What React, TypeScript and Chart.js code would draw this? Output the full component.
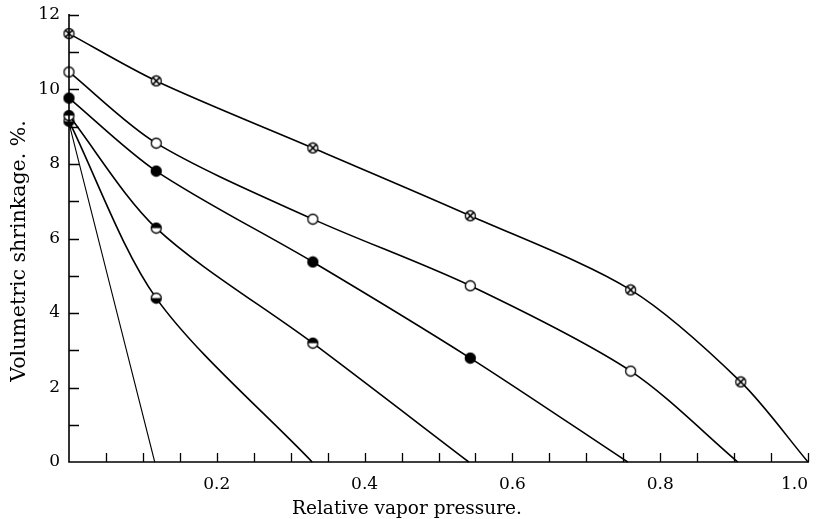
import React, { useEffect, useRef } from "react";
import { Chart, registerables } from "chart.js";

Chart.register(...registerables);

// Series: x = relative vapor pressure, y = volumetric shrinkage (%)
const crossX = [0, 0.118, 0.33, 0.543, 0.76, 0.909, 1.0];
const crossY = [11.5, 10.23, 8.43, 6.61, 4.62, 2.15, 0];
const openX = [0, 0.118, 0.33, 0.543, 0.76, 0.905];
const openY = [10.47, 8.56, 6.52, 4.73, 2.44, 0];
const filledX = [0, 0.118, 0.33, 0.543, 0.756];
const filledY = [9.77, 7.81, 5.37, 2.79, 0];
const topHalfX = [0, 0.118, 0.33, 0.541];
const topHalfY = [9.3, 6.28, 3.19, 0];
const bottomHalfX = [0, 0.118, 0.329];
const bottomHalfY = [9.15, 4.4, 0];
const plainX = [0, 0.116];
const plainY = [9.1, 0];

const xTickLabels = ["0.2", "0.4", "0.6", "0.8", "1.0"];
const yTickLabels = ["0", "2", "4", "6", "8", "10", "12"];
const xTitle = "Relative vapor pressure.";
const yTitle = "Volumetric shrinkage. %.";

const FONT = "'DejaVu Serif', 'Liberation Serif', serif";

function makeMarker(kind: string): HTMLCanvasElement {
  const s = 13;
  const c = document.createElement("canvas");
  c.width = s;
  c.height = s;
  const ctx = c.getContext("2d")!;
  const cx = 6.5, cy = 6.5, r = 5;
  ctx.lineWidth = 1.3;
  ctx.strokeStyle = "#000";
  ctx.fillStyle = "#fff";
  ctx.beginPath();
  ctx.arc(cx, cy, r, 0, Math.PI * 2);
  ctx.fill();
  ctx.fillStyle = "#000";
  if (kind === "filled") {
    ctx.beginPath();
    ctx.arc(cx, cy, r, 0, Math.PI * 2);
    ctx.fill();
  } else if (kind === "top") {
    ctx.beginPath();
    ctx.arc(cx, cy, r, Math.PI, Math.PI * 2);
    ctx.closePath();
    ctx.fill();
  } else if (kind === "bottom") {
    ctx.beginPath();
    ctx.arc(cx, cy, r, 0, Math.PI);
    ctx.closePath();
    ctx.fill();
  } else if (kind === "cross") {
    const d = r * 0.72;
    ctx.lineWidth = 1.5;
    ctx.beginPath();
    ctx.moveTo(cx - d, cy - d);
    ctx.lineTo(cx + d, cy + d);
    ctx.moveTo(cx + d, cy - d);
    ctx.lineTo(cx - d, cy + d);
    ctx.stroke();
    ctx.lineWidth = 1.3;
  }
  ctx.beginPath();
  ctx.arc(cx, cy, r, 0, Math.PI * 2);
  ctx.stroke();
  return c;
}

function pts(xs: number[], ys: number[]) {
  return xs.map((x, i) => ({ x, y: ys[i] }));
}

function radii(ys: number[], hasMarkers: boolean) {
  return ys.map((y) => (hasMarkers && y !== 0 ? 6 : 0));
}

const axesPlugin = {
  id: "paperAxes",
  afterDraw(chart: any) {
    const { ctx, chartArea } = chart;
    const xs = chart.scales.x;
    const ys = chart.scales.y;
    const left = chartArea.left;
    const bottom = chartArea.bottom;
    ctx.save();
    ctx.strokeStyle = "#000";
    ctx.lineWidth = 1.6;
    ctx.beginPath();
    ctx.moveTo(left, ys.getPixelForValue(12) - 1);
    ctx.lineTo(left, bottom);
    ctx.lineTo(xs.getPixelForValue(1.0) + 1, bottom);
    ctx.stroke();
    ctx.lineWidth = 1.3;
    ctx.beginPath();
    for (let v = 1; v <= 12; v++) {
      const py = Math.round(ys.getPixelForValue(v)) + 0.5;
      ctx.moveTo(left, py);
      ctx.lineTo(left + 10, py);
    }
    for (let i = 1; i <= 20; i++) {
      const px = Math.round(xs.getPixelForValue(i * 0.05)) + 0.5;
      ctx.moveTo(px, bottom);
      ctx.lineTo(px, bottom - 9);
    }
    ctx.stroke();
    ctx.fillStyle = "#000";
    ctx.textAlign = "center";
    ctx.textBaseline = "middle";
    ctx.font = `18.5px ${FONT}`;
    ctx.fillText(xTitle, 407, 509);
    ctx.font = `20.5px ${FONT}`;
    ctx.translate(20, 251);
    ctx.rotate(-Math.PI / 2);
    ctx.fillText(yTitle, 0, 0);
    ctx.restore();
  },
};

export default function App() {
  const ref = useRef<HTMLCanvasElement>(null);
  useEffect(() => {
    document.body.style.margin = "0";
    const cross = makeMarker("cross");
    const open = makeMarker("open");
    const filled = makeMarker("filled");
    const top = makeMarker("top");
    const bottom = makeMarker("bottom");
    const base = {
      borderColor: "#000",
      backgroundColor: "#000",
      borderWidth: 1.6,
      tension: 0.3,
      clip: false as any,
      pointHoverRadius: 0,
    };
    const chart = new Chart(ref.current!, {
      type: "line",
      data: {
        datasets: [
          { ...base, data: pts(crossX, crossY), pointStyle: cross as any, pointRadius: radii(crossY, true) },
          { ...base, data: pts(openX, openY), pointStyle: open as any, pointRadius: radii(openY, true) },
          { ...base, data: pts(filledX, filledY), pointStyle: filled as any, pointRadius: radii(filledY, true) },
          { ...base, data: pts(topHalfX, topHalfY), pointStyle: top as any, pointRadius: radii(topHalfY, true) },
          { ...base, data: pts(bottomHalfX, bottomHalfY), pointStyle: bottom as any, pointRadius: radii(bottomHalfY, true) },
          { ...base, borderWidth: 1.1, data: pts(plainX, plainY), pointRadius: 0 },
        ] as any,
      },
      options: {
        animation: false,
        responsive: false,
        devicePixelRatio: 1,
        layout: { padding: { left: 0, top: 15, right: 10, bottom: 0 } },
        plugins: { legend: { display: false }, tooltip: { enabled: false } },
        events: [],
        scales: {
          x: {
            type: "linear",
            min: 0,
            max: 1,
            grid: { display: false, drawTicks: false },
            border: { display: false },
            afterFit: (s: any) => {
              s.height = 57;
              s.paddingLeft = 0;
              s.paddingRight = 0;
            },
            ticks: {
              stepSize: 0.05,
              autoSkip: false,
              maxRotation: 0,
              align: "inner",
              padding: 12,
              color: "#000",
              font: { family: FONT, size: 17 },
              callback: (v: any) => {
                const k = Math.round(Number(v) * 100);
                return k > 0 && k % 20 === 0 ? xTickLabels[k / 20 - 1] : "";
              },
            },
          },
          y: {
            type: "linear",
            min: 0,
            max: 12,
            grid: { display: false, drawTicks: false },
            border: { display: false },
            afterFit: (s: any) => {
              s.width = 69;
              s.paddingTop = 0;
              s.paddingBottom = 0;
            },
            ticks: {
              stepSize: 1,
              autoSkip: false,
              padding: 9,
              color: "#000",
              font: { family: FONT, size: 17 },
              callback: (v: any) => {
                const n = Math.round(Number(v));
                return n % 2 === 0 ? yTickLabels[n / 2] : "";
              },
            },
          },
        },
      },
      plugins: [axesPlugin],
    });
    return () => chart.destroy();
  }, []);
  return (
    <div style={{ width: 818, height: 519 }}>
      <canvas ref={ref} width={818} height={519} />
    </div>
  );
}
